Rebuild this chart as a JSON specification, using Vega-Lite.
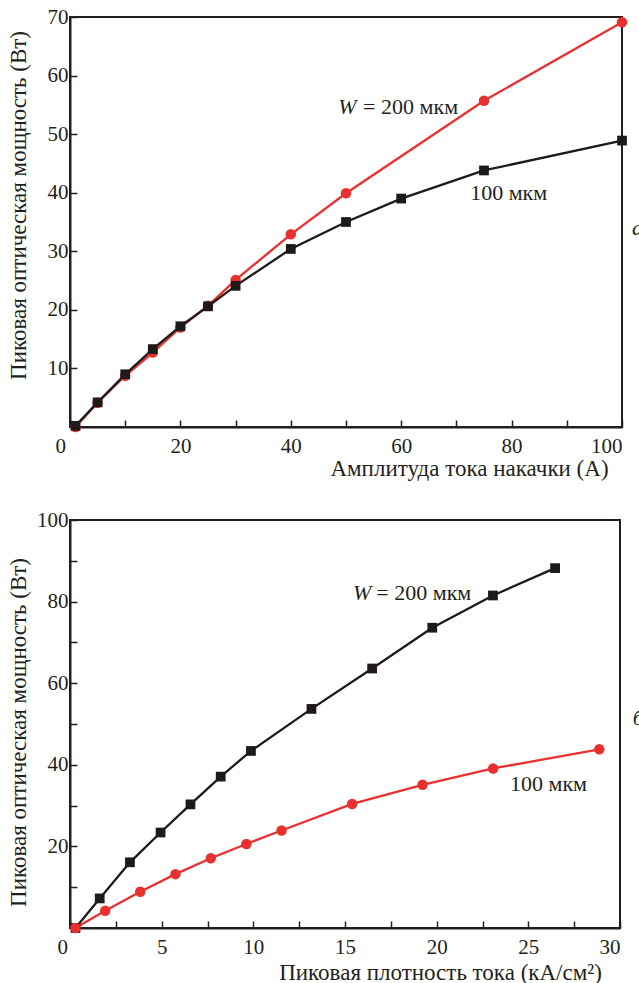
{
  "$schema": "https://vega.github.io/schema/vega-lite/v6.json",
  "background": "white",
  "padding": {"left": 6, "top": 5, "right": 0, "bottom": 0},
  "spacing": 27,
  "resolve": {"scale": {"color": "independent", "shape": "independent", "size": "independent"}},
  "config": {
    "font": "Liberation Serif",
    "view": {"stroke": "#231f20", "strokeWidth": 2},
    "axis": {
      "grid": false,
      "domainColor": "#231f20",
      "domainWidth": 2,
      "tickColor": "#231f20",
      "tickWidth": 1.5,
      "tickSize": -7,
      "labelFont": "Liberation Serif",
      "labelFontSize": 21,
      "labelColor": "#231f20",
      "titleFont": "Liberation Serif",
      "titleFontSize": 23,
      "titleFontWeight": "normal",
      "titleColor": "#231f20"
    },
    "axisX": {"labelPadding": 15, "titleBaseline": "middle", "titleAlign": "center", "titleAnchor": null},
    "axisY": {"labelPadding": 9, "titleBaseline": "middle", "titleAlign": "center", "titleAnchor": null},
    "text": {"font": "Liberation Serif", "fontSize": 22, "color": "#231f20", "baseline": "middle", "align": "left"}
  },
  "datasets": {
    "top": [
      {"current": 1, "power": 0, "series": "W = 200 мкм"},
      {"current": 5, "power": 4.15, "series": "W = 200 мкм"},
      {"current": 10, "power": 8.75, "series": "W = 200 мкм"},
      {"current": 15, "power": 12.7, "series": "W = 200 мкм"},
      {"current": 20, "power": 17.0, "series": "W = 200 мкм"},
      {"current": 25, "power": 20.7, "series": "W = 200 мкм"},
      {"current": 30, "power": 25.1, "series": "W = 200 мкм"},
      {"current": 40, "power": 32.9, "series": "W = 200 мкм"},
      {"current": 50, "power": 39.9, "series": "W = 200 мкм"},
      {"current": 75, "power": 55.7, "series": "W = 200 мкм"},
      {"current": 100, "power": 69.1, "series": "W = 200 мкм"},
      {"current": 1, "power": 0.2, "series": "100 мкм"},
      {"current": 5, "power": 4.2, "series": "100 мкм"},
      {"current": 10, "power": 9.0, "series": "100 мкм"},
      {"current": 15, "power": 13.3, "series": "100 мкм"},
      {"current": 20, "power": 17.2, "series": "100 мкм"},
      {"current": 25, "power": 20.6, "series": "100 мкм"},
      {"current": 30, "power": 24.1, "series": "100 мкм"},
      {"current": 40, "power": 30.4, "series": "100 мкм"},
      {"current": 50, "power": 35.0, "series": "100 мкм"},
      {"current": 60, "power": 39.0, "series": "100 мкм"},
      {"current": 75, "power": 43.8, "series": "100 мкм"},
      {"current": 100, "power": 48.9, "series": "100 мкм"}
    ],
    "bottom": [
      {"density": 0.3, "power": 0, "series": "W = 200 мкм"},
      {"density": 1.62, "power": 7.25, "series": "W = 200 мкм"},
      {"density": 3.27, "power": 16.1, "series": "W = 200 мкм"},
      {"density": 4.94, "power": 23.4, "series": "W = 200 мкм"},
      {"density": 6.57, "power": 30.3, "series": "W = 200 мкм"},
      {"density": 8.22, "power": 37.1, "series": "W = 200 мкм"},
      {"density": 9.87, "power": 43.4, "series": "W = 200 мкм"},
      {"density": 13.17, "power": 53.7, "series": "W = 200 мкм"},
      {"density": 16.48, "power": 63.6, "series": "W = 200 мкм"},
      {"density": 19.76, "power": 73.6, "series": "W = 200 мкм"},
      {"density": 23.07, "power": 81.5, "series": "W = 200 мкм"},
      {"density": 26.46, "power": 88.2, "series": "W = 200 мкм"},
      {"density": 0.3, "power": 0, "series": "100 мкм"},
      {"density": 1.92, "power": 4.2, "series": "100 мкм"},
      {"density": 3.83, "power": 8.9, "series": "100 мкм"},
      {"density": 5.75, "power": 13.2, "series": "100 мкм"},
      {"density": 7.68, "power": 17.1, "series": "100 мкм"},
      {"density": 9.62, "power": 20.6, "series": "100 мкм"},
      {"density": 11.54, "power": 23.9, "series": "100 мкм"},
      {"density": 15.39, "power": 30.4, "series": "100 мкм"},
      {"density": 19.23, "power": 35.1, "series": "100 мкм"},
      {"density": 23.08, "power": 39.1, "series": "100 мкм"},
      {"density": 28.87, "power": 43.8, "series": "100 мкм"}
    ],
    "one": [{}]
  },
  "vconcat": [
    {
      "width": 552,
      "height": 410,
      "layer": [
        {
          "data": {"name": "top"},
          "mark": {"type": "line", "strokeWidth": 2.3},
          "encoding": {
            "x": {"field": "current", "type": "quantitative",
              "scale": {"domain": [0, 100], "nice": false},
              "axis": {"values": [0, 10, 20, 30, 40, 50, 60, 70, 80, 90, 100],
                "labelExpr": "datum.value % 20 == 0 ? datum.label : ''",
                "labelOffset": {"condition": {"test": "datum.value == 0", "value": -15}, "value": 0},
                "title": "Амплитуда тока накачки (А)", "titleX": 399, "titleY": 41}},
            "y": {"field": "power", "type": "quantitative",
              "scale": {"domain": [0, 70], "nice": false},
              "axis": {"values": [10, 20, 30, 40, 50, 60, 70], "title": "Пиковая оптическая мощность (Вт)",
                "titleX": -52, "titleY": 188}},
            "color": {"field": "series", "type": "nominal", "legend": null,
              "scale": {"domain": ["W = 200 мкм", "100 мкм"], "range": ["#ea302e", "#1e1a1a"]}},
            "detail": {"field": "series"}
          }
        },
        {
          "data": {"name": "top"},
          "mark": {"type": "point", "filled": true, "opacity": 1},
          "encoding": {
            "x": {"field": "current", "type": "quantitative"},
            "y": {"field": "power", "type": "quantitative"},
            "color": {"field": "series", "type": "nominal", "legend": null},
            "shape": {"field": "series", "type": "nominal", "legend": null,
              "scale": {"domain": ["W = 200 мкм", "100 мкм"], "range": ["circle", "square"]}},
            "size": {"field": "series", "type": "nominal", "legend": null,
              "scale": {"domain": ["W = 200 мкм", "100 мкм"], "range": [110, 95]}}
          }
        },
        {
          "data": {"name": "one"},
          "mark": {"type": "text", "text": "W", "fontStyle": "italic"},
          "encoding": {"x": {"datum": 48.6}, "y": {"datum": 54.6}}
        },
        {
          "data": {"name": "one"},
          "mark": {"type": "text", "text": "= 200 мкм"},
          "encoding": {"x": {"datum": 53.1}, "y": {"datum": 54.6}}
        },
        {
          "data": {"name": "one"},
          "mark": {"type": "text", "text": "100 мкм"},
          "encoding": {"x": {"datum": 72.5}, "y": {"datum": 39.9}}
        },
        {
          "data": {"name": "one"},
          "mark": {"type": "text", "text": "а", "fontStyle": "italic"},
          "encoding": {"x": {"datum": 101.8}, "y": {"datum": 34.0}}
        }
      ]
    },
    {
      "width": 550,
      "height": 408,
      "layer": [
        {
          "data": {"name": "bottom"},
          "mark": {"type": "line", "strokeWidth": 2.3},
          "encoding": {
            "x": {"field": "density", "type": "quantitative",
              "scale": {"domain": [0, 30], "nice": false},
              "axis": {"values": [0, 2.5, 5, 7.5, 10, 12.5, 15, 17.5, 20, 22.5, 25, 27.5, 30],
                "labelExpr": "datum.value % 5 == 0 ? datum.label : ''",
                "labelOffset": {"condition": {"test": "datum.value == 0", "value": -13}, "value": 0},
                "title": "Пиковая плотность тока (кА/см²)", "titleX": 370, "titleY": 44}},
            "y": {"field": "power", "type": "quantitative",
              "scale": {"domain": [0, 100], "nice": false},
              "axis": {"values": [10, 20, 30, 40, 50, 60, 70, 80, 90, 100],
                "labelExpr": "datum.value % 20 == 0 ? datum.label : ''",
                "title": "Пиковая оптическая мощность (Вт)", "titleX": -52, "titleY": 212}},
            "color": {"field": "series", "type": "nominal", "legend": null,
              "scale": {"domain": ["W = 200 мкм", "100 мкм"], "range": ["#1e1a1a", "#ea302e"]}},
            "detail": {"field": "series"}
          }
        },
        {
          "data": {"name": "bottom"},
          "mark": {"type": "point", "filled": true, "opacity": 1},
          "encoding": {
            "x": {"field": "density", "type": "quantitative"},
            "y": {"field": "power", "type": "quantitative"},
            "color": {"field": "series", "type": "nominal", "legend": null},
            "shape": {"field": "series", "type": "nominal", "legend": null,
              "scale": {"domain": ["W = 200 мкм", "100 мкм"], "range": ["square", "circle"]}},
            "size": {"field": "series", "type": "nominal", "legend": null,
              "scale": {"domain": ["W = 200 мкм", "100 мкм"], "range": [95, 110]}}
          }
        },
        {
          "data": {"name": "one"},
          "mark": {"type": "text", "text": "W", "fontStyle": "italic"},
          "encoding": {"x": {"datum": 15.44}, "y": {"datum": 82.1}}
        },
        {
          "data": {"name": "one"},
          "mark": {"type": "text", "text": "= 200 мкм"},
          "encoding": {"x": {"datum": 16.71}, "y": {"datum": 82.1}}
        },
        {
          "data": {"name": "one"},
          "mark": {"type": "text", "text": "100 мкм"},
          "encoding": {"x": {"datum": 24.0}, "y": {"datum": 35.3}}
        },
        {
          "data": {"name": "one"},
          "mark": {"type": "text", "text": "б", "fontStyle": "italic"},
          "encoding": {"x": {"datum": 30.7}, "y": {"datum": 51.5}}
        }
      ]
    }
  ]
}
